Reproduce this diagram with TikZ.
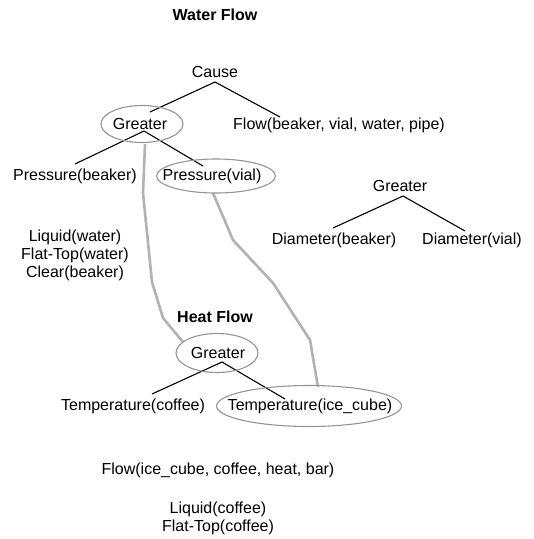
\documentclass[tikz,border=0pt]{standalone}
\usepackage{fontspec}
\setmainfont{Liberation Sans}
\usepackage{tikz}
\usetikzlibrary{calc}

\begin{document}
\begin{tikzpicture}[x=1pt,y=-1pt,
		every node/.style={inner sep=0pt,text height=11.5pt,text depth=0pt,font=\fontsize{16}{18}\selectfont},
		title/.style={font=\fontsize{16}{18}\selectfont\bfseries},
		tree/.style={black,line width=1.1pt},
		ring/.style={black!42,line width=1.1pt},
		link/.style={black!30,line width=2.6pt,line join=round}]
		\useasboundingbox (0,0) rectangle (534,539);
		\node[title] (wtitle) at (215,15) {Water Flow};
		\node (cause) at (215,72) {Cause};
		\node (wgr) at (140,124) {Greater};
		\node (wflow) at (339,124) {Flow(beaker, vial, water, pipe)};
		\node (pbeaker) at (75,175) {Pressure(beaker)};
		\node (pvial) at (212,175) {Pressure(vial)};
		\node (dgr) at (400,186) {Greater};
		\node (dbeaker) at (334,239) {Diameter(beaker)};
		\node (dvial) at (472,239) {Diameter(vial)};
		\node[align=center] (wfacts) at (75,272) {Liquid(water)\\Flat-Top(water)\\Clear(beaker)};
		\node[title] (htitle) at (215,317) {Heat Flow};
		\node (hgr) at (218,353) {Greater};
		\node (tcoffee) at (133,405) {Temperature(coffee)};
		\node (tice) at (310,405) {Temperature(ice\_cube)};
		\node (hflow) at (218,469) {Flow(ice\_cube, coffee, heat, bar)};
		\node[align=center] (hfacts) at (218,526) {Liquid(coffee)\\Flat-Top(coffee)};
		\draw[link] ($(wgr)+(5,20)$) -- (143,193) -- (152,282) -- (163,318) -- ($(hgr)+(-35,-11)$);
		\draw[link] ($(pvial)+(1,18)$) -- (233,240) -- (273,283) -- (310,340) -- ($(tice)+(8,-18)$);
		\draw[tree] ($(wgr)+(10,-12)$) -- ($(cause)+(0,10)$) -- ($(wflow)+(-59,-7)$);
		\draw[tree] ($(pbeaker)+(0,-11)$) -- ($(wgr)+(4,7)$) -- ($(pvial)+(-9,-9)$);
		\draw[tree] ($(dbeaker)+(-1,-11)$) -- ($(dgr)+(3,10)$) -- ($(dvial)+(-7,-8)$);
		\draw[tree] ($(tcoffee)+(19,-11)$) -- ($(hgr)+(4,9)$) -- ($(tice)+(-25,-6)$);
		\draw[ring] ($(wgr)+(2,0)$) ellipse [x radius=41,y radius=18.5];
		\draw[ring] ($(pvial)+(4,1)$) ellipse [x radius=59.5,y radius=17];
		\draw[ring] ($(hgr)+(-1,0)$) ellipse [x radius=41,y radius=19.5];
		\draw[ring] ($(tice)+(-1,1)$) ellipse [x radius=92.5,y radius=20.5];
		\end{tikzpicture}
\end{document}
